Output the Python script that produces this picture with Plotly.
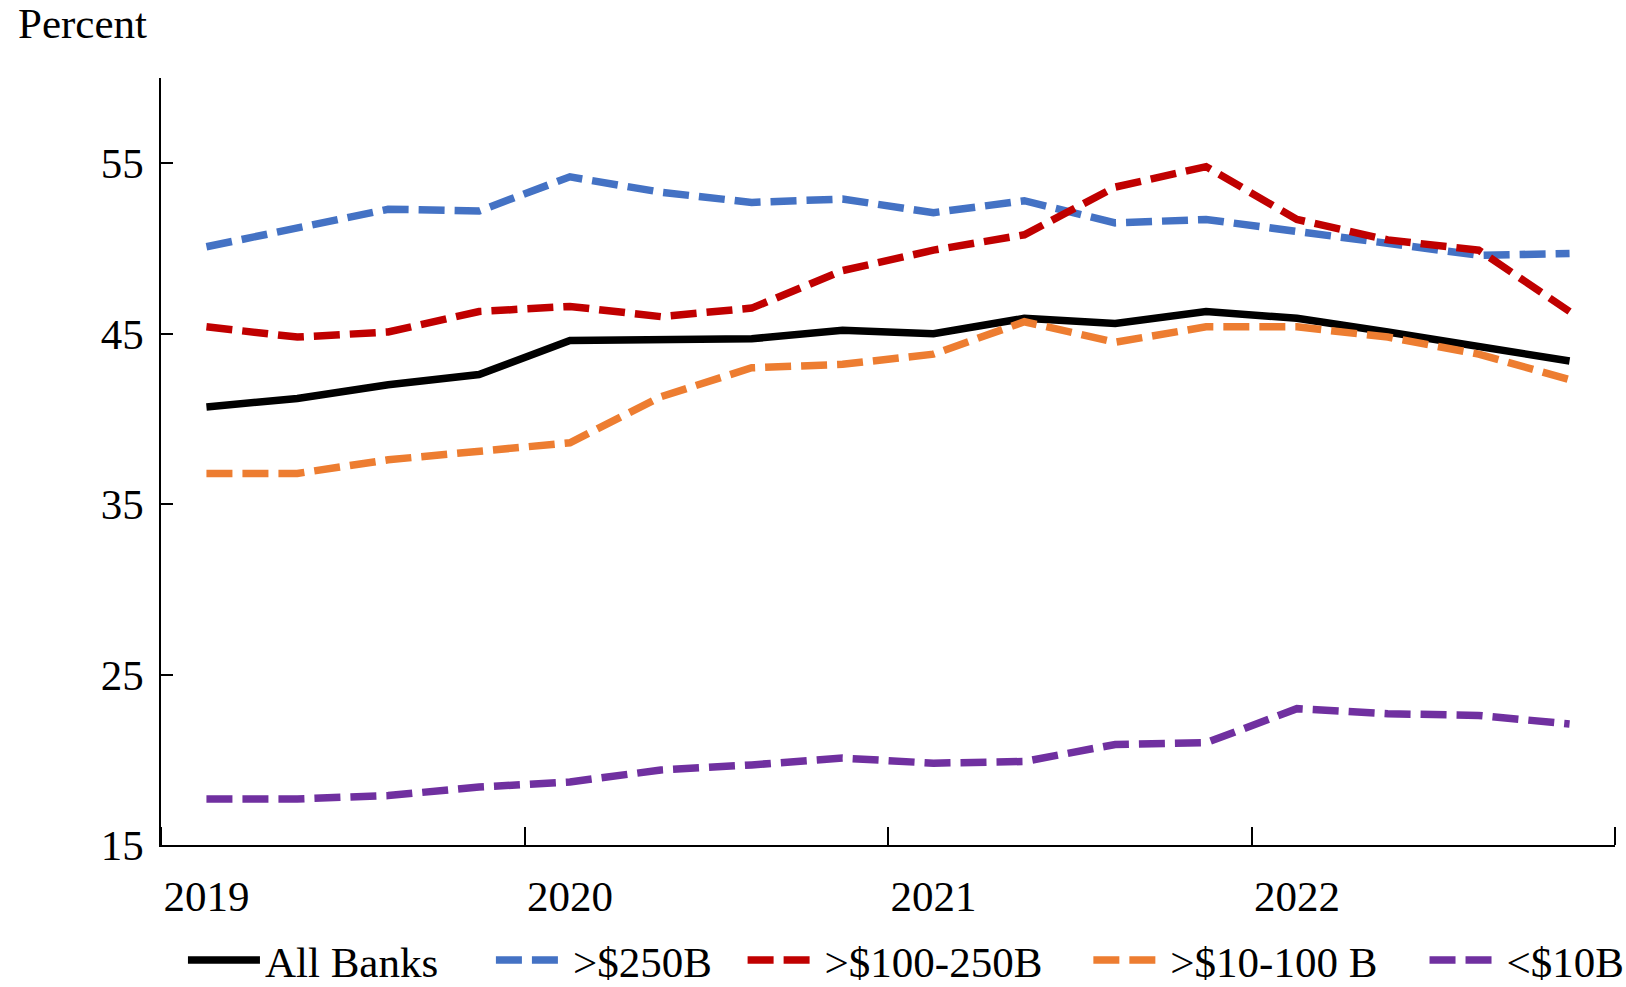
import plotly.graph_objects as go

quarters = ["2019Q1", "2019Q2", "2019Q3", "2019Q4",
            "2020Q1", "2020Q2", "2020Q3", "2020Q4",
            "2021Q1", "2021Q2", "2021Q3", "2021Q4",
            "2022Q1", "2022Q2", "2022Q3", "2022Q4"]
year_labels = ["2019", "2020", "2021", "2022"]

all_banks = [40.7, 41.2, 42.0, 42.6, 44.6, 44.6, 44.7, 45.2, 45.0, 45.9, 45.6, 46.3, 45.9, 45.1, 44.2, 43.4]
gt_250b = [50.1, 51.2, 52.3, 52.2, 54.2, 53.3, 52.7, 52.9, 52.1, 52.8, 51.5, 51.7, 51.0, 50.4, 49.6, 49.7]
b100_250 = [45.4, 44.8, 45.1, 46.3, 46.6, 46.0, 46.5, 48.7, 49.9, 50.8, 53.6, 54.8, 51.7, 50.5, 49.9, 46.3]
b10_100 = [36.8, 36.8, 37.6, 38.1, 38.6, 41.3, 43.0, 43.2, 43.8, 45.7, 44.5, 45.4, 45.4, 44.8, 43.8, 42.3]
lt_10b = [17.7, 17.7, 17.9, 18.4, 18.7, 19.4, 19.7, 20.1, 19.8, 19.9, 20.9, 21.0, 23.0, 22.7, 22.6, 22.1]

series = [
    ("All Banks", all_banks, "#000000", "solid"),
    (">$250B", gt_250b, "#4472C4", "26px,10px"),
    (">$100-250B", b100_250, "#C00000", "26px,10px"),
    (">$10-100 B", b10_100, "#ED7D31", "26px,10px"),
    ("<$10B", lt_10b, "#7030A0", "26px,10px"),
]
legend_x = [0.0151, 0.2269, 0.4000, 0.6378, 0.8690]

x_idx = list(range(len(quarters)))
FONT = "Liberation Serif, Times New Roman, serif"
FS = 43

fig = go.Figure()
legend_ids = ["legend"] + ["legend%d" % (i + 1) for i in range(1, len(series))]
for (name, vals, color, dash), lid in zip(series, legend_ids):
    fig.add_trace(go.Scatter(
        x=x_idx, y=vals, name=name, mode="lines",
        line=dict(color=color, width=7.5, dash=dash),
        customdata=quarters, legend=lid,
    ))

year_pos = [quarters.index(y + "Q1") for y in year_labels]
boundaries = [p - 0.5 for p in year_pos] + [len(quarters) - 0.5]

legends = {}
for lid, lx in zip(legend_ids, legend_x):
    legends[lid] = dict(orientation="h", x=lx, xanchor="left", y=-0.150, yanchor="middle",
                        font=dict(family=FONT, size=FS), itemwidth=72,
                        bgcolor="rgba(0,0,0,0)")

fig.update_layout(
    width=1626, height=987,
    margin=dict(l=161, r=11, t=78, b=142, autoexpand=False),
    paper_bgcolor="white", plot_bgcolor="white",
    font=dict(family=FONT, size=FS, color="black"),
    showlegend=True,
    xaxis=dict(
        range=[-0.5, len(quarters) - 0.5],
        tickmode="array", tickvals=year_pos, ticktext=year_labels,
        ticks="", showgrid=False, zeroline=False,
        showline=True, linecolor="black", linewidth=1.5,
        ticklabelstandoff=13,
        minor=dict(tickmode="array", tickvals=boundaries, ticks="inside",
                   ticklen=18, tickwidth=1.5, tickcolor="black", showgrid=False),
    ),
    yaxis=dict(
        range=[15, 60], tickmode="array", tickvals=[15, 25, 35, 45, 55],
        ticks="inside", ticklen=12, tickwidth=1.5, tickcolor="black",
        showgrid=False, zeroline=False,
        showline=True, linecolor="black", linewidth=1.5,
        ticklabelstandoff=7,
    ),
    annotations=[dict(
        text="Percent", xref="paper", yref="paper",
        x=-0.0997, y=1.0717, xanchor="left", yanchor="middle",
        showarrow=False, font=dict(family=FONT, size=FS),
    )],
    **legends,
)

fig.write_html("out.html")
